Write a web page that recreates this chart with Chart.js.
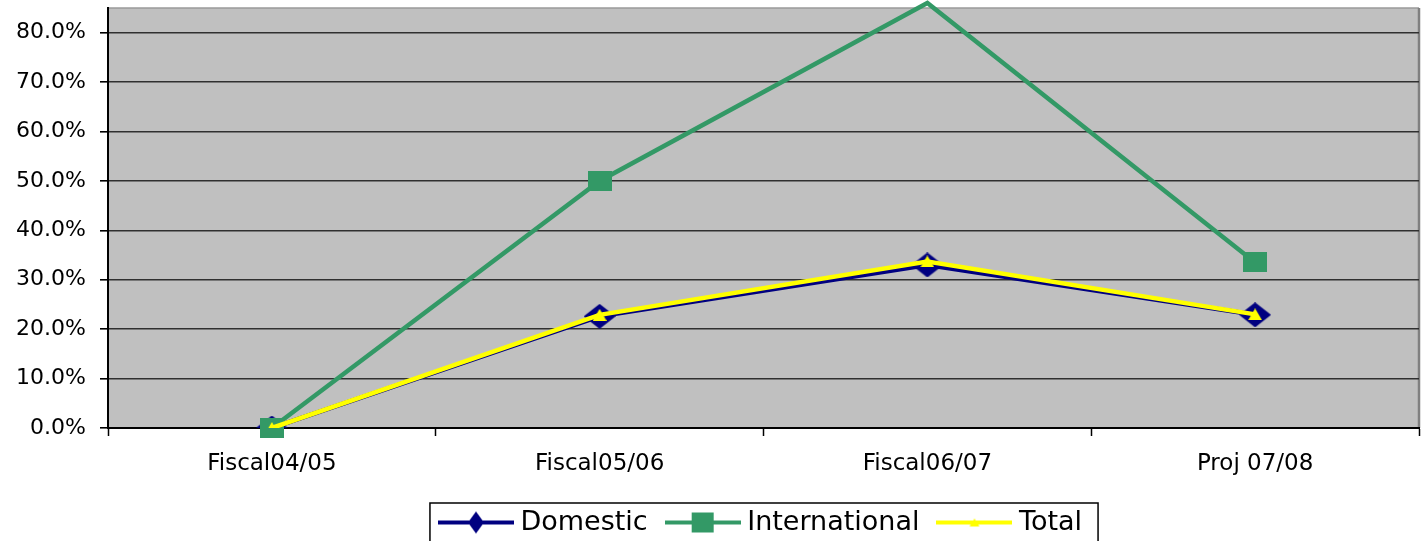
<!DOCTYPE html>
<html>
<head>
<meta charset="utf-8">
<title>Growth</title>
<script src="https://cdn.jsdelivr.net/npm/chart.js@4.4.1/dist/chart.umd.min.js"></script>
<style>
  html, body { margin: 0; padding: 0; background: #fff; }
  canvas { display: block; }
</style>
</head>
<body>
<canvas id="growth-chart" width="1423" height="541"></canvas>
<script>
// values (percent)
var categories = ['Fiscal04/05', 'Fiscal05/06', 'Fiscal06/07', 'Proj 07/08'];
var domestic = [0, 22.6, 33.0, 22.9];
var international = [0, 50.0, 86.0, 33.5];
var total = [0, 22.9, 33.7, 23.0];
var yTicks = [0, 10, 20, 30, 40, 50, 60, 70, 80];

var NAVY = '#000080';
var GREEN = '#339966';
var YELLOW = '#FFFF00';

function makeCanvas(w, h, draw) {
    var c = document.createElement('canvas');
    c.width = w;
    c.height = h;
    draw(c.getContext('2d'), w, h);
    return c;
}

function diamond(ctx, cx, cy, w, h, color) {
    ctx.fillStyle = color;
    ctx.beginPath();
    ctx.moveTo(cx, cy - h / 2);
    ctx.lineTo(cx + w / 2, cy);
    ctx.lineTo(cx, cy + h / 2);
    ctx.lineTo(cx - w / 2, cy);
    ctx.closePath();
    ctx.fill();
}

function square(ctx, cx, cy, w, h, color) {
    ctx.fillStyle = color;
    ctx.fillRect(cx - w / 2, cy - h / 2, w, h);
}

function triangle(ctx, cx, cy, w, h, color) {
    ctx.fillStyle = color;
    ctx.beginPath();
    ctx.moveTo(cx, cy - h / 2);
    ctx.lineTo(cx + w / 2, cy + h / 2);
    ctx.lineTo(cx - w / 2, cy + h / 2);
    ctx.closePath();
    ctx.fill();
}

// point markers
var diamondMark = makeCanvas(32, 25, function(ctx, w, h) { diamond(ctx, w / 2, h / 2, w, h, NAVY); });
var squareMark = makeCanvas(24, 20, function(ctx, w, h) { square(ctx, w / 2, h / 2, w, h, GREEN); });
var triangleMark = makeCanvas(14, 12, function(ctx, w, h) { triangle(ctx, w / 2, h / 2, w, h, YELLOW); });

// legend icons: line with marker in the middle
function legendIcon(color, drawMarker) {
    return makeCanvas(76, 26, function(ctx, w, h) {
        ctx.strokeStyle = color;
        ctx.lineWidth = 4;
        ctx.beginPath();
        ctx.moveTo(0, h / 2);
        ctx.lineTo(w, h / 2);
        ctx.stroke();
        drawMarker(ctx, w / 2, h / 2);
    });
}
var legendIcons = [
    legendIcon(NAVY, function(ctx, x, y) { diamond(ctx, x, y, 16, 22, NAVY); }),
    legendIcon(GREEN, function(ctx, x, y) { square(ctx, x, y, 22, 20, GREEN); }),
    legendIcon(YELLOW, function(ctx, x, y) { triangle(ctx, x, y, 10, 8, YELLOW); })
];

// no extra room round the plot for half labels
function noPadding(scale) {
    scale.paddingTop = 0;
    scale.paddingBottom = 0;
    scale.paddingLeft = 0;
    scale.paddingRight = 0;
}

// gray plot area with its top and right border, box round the legend
var excelFrame = {
    id: 'excelFrame',
    beforeDraw: function(chart) {
        var a = chart.chartArea;
        var ctx = chart.ctx;
        ctx.save();
        ctx.fillStyle = '#C0C0C0';
        ctx.fillRect(a.left, a.top, a.right - a.left, a.bottom - a.top);
        ctx.strokeStyle = '#9a9a9a';
        ctx.lineWidth = 1.5;
        ctx.beginPath();
        ctx.moveTo(a.left, a.top);
        ctx.lineTo(a.right, a.top);
        ctx.stroke();
        ctx.strokeStyle = '#808080';
        ctx.lineWidth = 2.5;
        ctx.beginPath();
        ctx.moveTo(a.right, a.top);
        ctx.lineTo(a.right, a.bottom);
        ctx.stroke();
        ctx.restore();
    },
    afterDraw: function(chart) {
        var boxes = chart.legend.legendHitBoxes;
        if (!boxes || !boxes.length) return;
        var first = boxes[0];
        var last = boxes[boxes.length - 1];
        var left = first.left - 15;
        var right = last.left + last.width + 16;
        var top = first.top - 6;
        var ctx = chart.ctx;
        ctx.save();
        ctx.strokeStyle = '#000';
        ctx.lineWidth = 1.5;
        ctx.strokeRect(left, top, right - left, chart.height - top + 10);
        ctx.restore();
    }
};

var ctx = document.getElementById('growth-chart');
new Chart(ctx, {
    type: 'line',
    data: {
        labels: categories,
        datasets: [{
            label: 'Domestic',
            data: domestic,
            borderColor: NAVY,
            backgroundColor: NAVY,
            borderWidth: 4.5,
            pointStyle: diamondMark,
            pointRadius: 12,
            order: 3
        }, {
            label: 'International',
            data: international,
            borderColor: GREEN,
            backgroundColor: GREEN,
            borderWidth: 4.5,
            pointStyle: squareMark,
            // Excel hides markers that fall above the axis max
            pointRadius: function(c) { return c.parsed && c.parsed.y > 85 ? 0 : 10; },
            clip: false,
            order: 2
        }, {
            label: 'Total',
            data: total,
            borderColor: YELLOW,
            backgroundColor: YELLOW,
            borderWidth: 4.5,
            pointStyle: triangleMark,
            pointRadius: 6,
            order: 1
        }]
    },
    options: {
        responsive: false,
        animation: false,
        devicePixelRatio: 1,
        layout: { autoPadding: false, padding: { top: 8, right: 4, left: 0, bottom: 0 } },
        elements: { line: { tension: 0 } },
        plugins: {
            tooltip: { enabled: false },
            legend: {
                position: 'bottom',
                fullSize: false,
                maxHeight: 56,
                labels: {
                    usePointStyle: true,
                    pointStyleWidth: 62,
                    padding: 24,
                    color: '#000',
                    font: { family: 'DejaVu Sans', size: 27 },
                    generateLabels: function(chart) {
                        return chart.data.datasets.map(function(ds, i) {
                            return {
                                text: ds.label,
                                pointStyle: legendIcons[i],
                                fillStyle: ds.borderColor,
                                strokeStyle: ds.borderColor,
                                lineWidth: 0,
                                hidden: false,
                                datasetIndex: i
                            };
                        });
                    }
                }
            }
        },
        scales: {
            x: {
                offset: true,
                afterFit: function(scale) { scale.height = 57; noPadding(scale); },
                grid: {
                    offset: true,
                    drawOnChartArea: false,
                    drawTicks: true,
                    tickLength: 8,
                    tickColor: '#000',
                    tickWidth: 1.5
                },
                border: { color: '#000', width: 2 },
                ticks: {
                    padding: 14,
                    color: '#000',
                    maxRotation: 0,
                    font: { family: 'DejaVu Sans', size: 23 }
                }
            },
            y: {
                min: 0,
                max: 85,
                afterFit: function(scale) { scale.width = 108; noPadding(scale); },
                afterBuildTicks: function(scale) {
                    scale.ticks = yTicks.map(function(v) { return { value: v }; });
                },
                grid: {
                    color: '#303030',
                    lineWidth: 1.6,
                    tickLength: 8,
                    tickColor: '#000'
                },
                border: { color: '#000', width: 2 },
                ticks: {
                    padding: 14,
                    color: '#000',
                    font: { family: 'DejaVu Sans', size: 22 },
                    callback: function(v) { return v.toFixed(1) + '%'; }
                }
            }
        }
    },
    plugins: [excelFrame]
});
</script>
</body>
</html>
